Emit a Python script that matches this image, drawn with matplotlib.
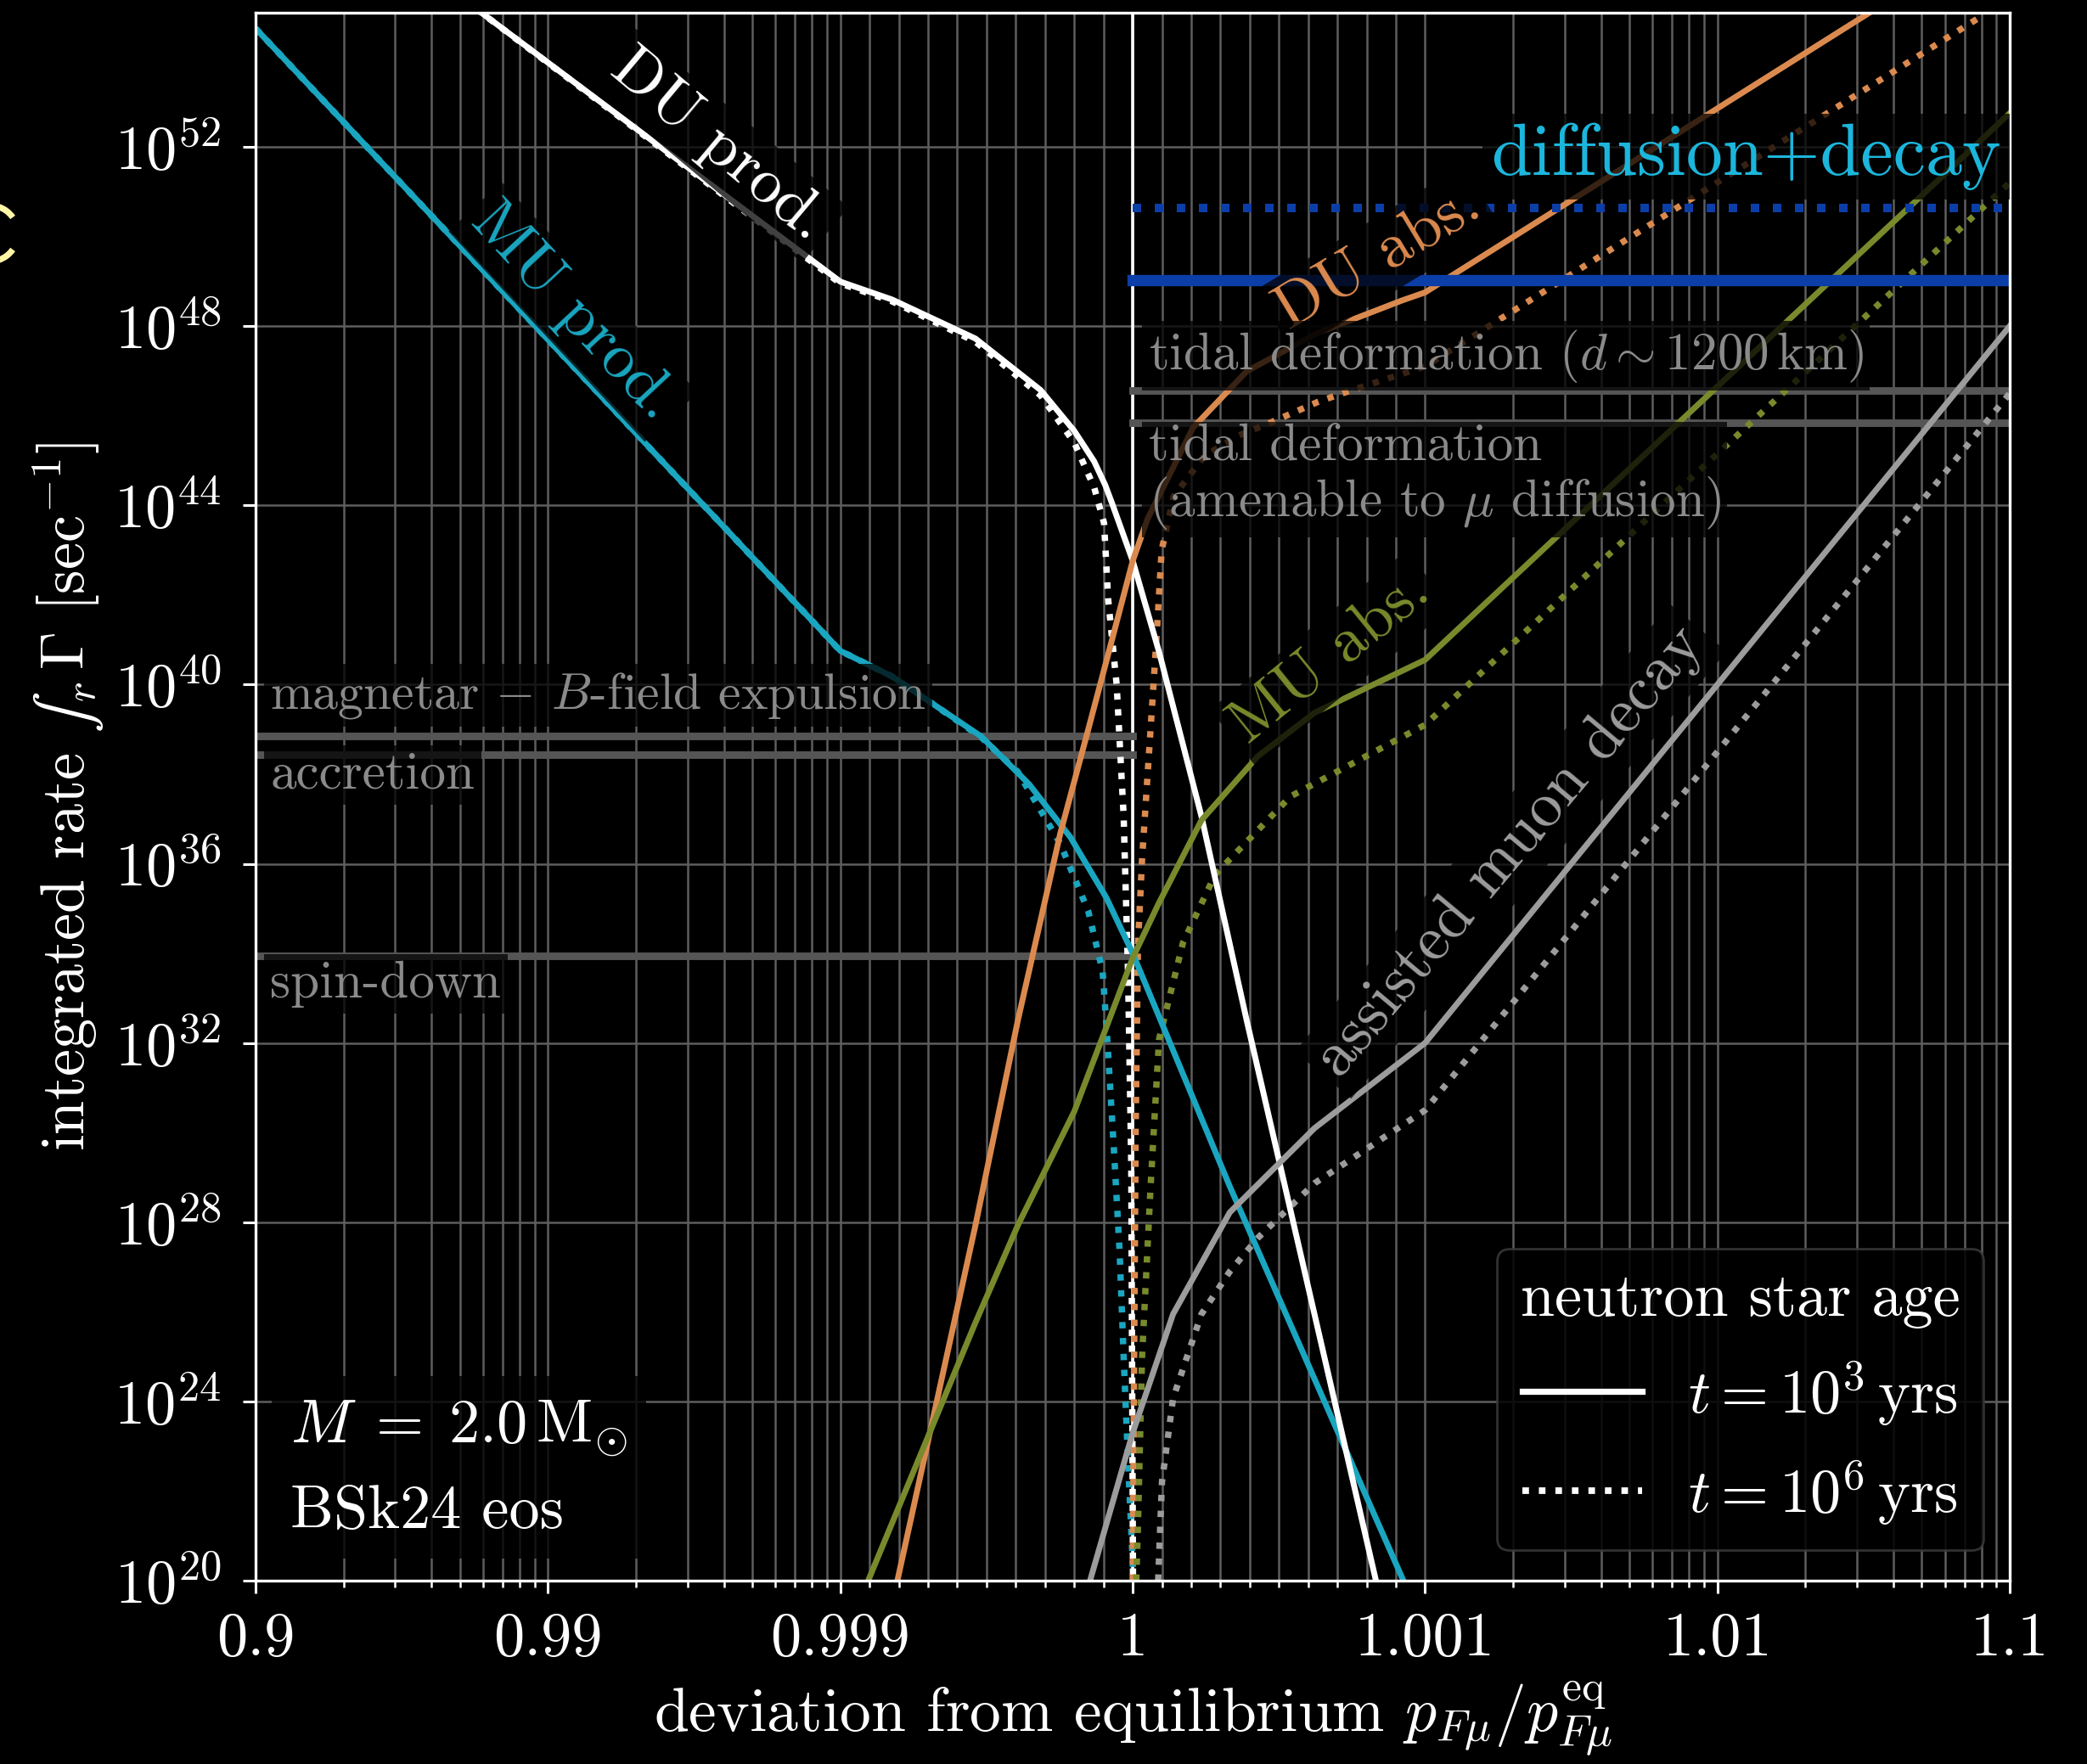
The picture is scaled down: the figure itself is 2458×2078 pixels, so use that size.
import numpy as np
import matplotlib
matplotlib.use("Agg")
import matplotlib.pyplot as plt
from matplotlib.lines import Line2D
from matplotlib.patches import Arc
from matplotlib.transforms import IdentityTransform
from matplotlib.ticker import FixedLocator, NullFormatter, NullLocator

plt.rcParams['font.family'] = ['cmr10']
plt.rcParams['mathtext.fontset'] = 'cm'
plt.rcParams['axes.formatter.use_mathtext'] = True
plt.rcParams['axes.unicode_minus'] = False

# ---------------- data (x = p_Fmu / p_Fmu^eq, values = log10 of rate [1/s]) -------------
mu_prod_x_t3 = [0.9, 0.999, 0.999177, 0.9993, 0.999482, 0.999645, 0.999787, 0.99991, 1.0,
                1.000332, 1.000622, 1.000926]
mu_prod_t3 = [54.64, 40.75, 40.18, 39.64, 38.84, 37.78, 36.59, 35.24, 34.0, 28.8, 24.5, 20.0]
mu_prod_x_t6 = [0.9, 0.999, 0.999177, 0.9993, 0.999482, 0.999607, 0.999752, 0.999848, 0.999897,
                0.99991, 0.999935, 0.999955, 0.999969, 0.999984, 1.000003]
mu_prod_t6 = [54.64, 40.75, 40.18, 39.64, 38.82, 38.05, 36.45, 34.94, 33.6, 32.4, 29.7, 27.37,
              25.0, 22.65, 20.0]

du_prod_x_t3 = [0.98, 0.999, 0.999177, 0.999462, 0.999685, 0.9998, 0.999868, 0.999906, 0.999929,
                1.0, 1.00009, 1.000235, 1.00039, 1.000832]
du_prod_t3 = [55.35, 48.99, 48.59, 47.72, 46.57, 45.66, 44.98, 44.45, 44.05, 42.76, 40.73, 37.06,
              32.5, 20.0]
du_prod_x_t6 = [0.98, 0.999, 0.999177, 0.999462, 0.999685, 0.9998, 0.999868, 0.999902, 0.999916,
                0.999945, 0.999969, 0.999984, 0.999995, 1.000001]
du_prod_t6 = [55.35, 48.95, 48.55, 47.65, 46.45, 45.4, 44.4, 43.6, 41.9, 40.0, 37.06, 33.56,
              29.3, 20.0]

du_abs_x_t3 = [0.999195, 0.999462, 0.999607, 0.999752, 0.999848, 0.999926, 1.0, 1.000051,
               1.000206, 1.00039, 1.000631, 1.000921, 1.001, 1.0398]
du_abs_t3 = [20.0, 27.93, 32.5, 36.67, 39.0, 40.92, 42.76, 43.7, 45.73, 46.99, 47.84, 48.57,
             48.75, 55.32]
du_abs_x_t6 = [1.0, 1.00001, 1.000018, 1.000032, 1.000051, 1.00008, 1.000099, 1.00014,
               1.000245, 1.00036, 1.000477, 1.000631, 1.000718, 1.001, 1.0794]
du_abs_t6 = [20.0, 30.0, 34.2, 36.1, 38.0, 40.9, 43.0, 44.2, 45.1, 45.55, 45.86, 46.3, 46.5,
             47.1, 54.9]

mu_abs_x_t3 = [0.999095, 0.999462, 0.999607, 0.9998, 1.0, 1.00009, 1.000235, 1.000428, 1.000622,
               1.001, 1.1]
mu_abs_t3 = [20.0, 25.76, 27.93, 30.47, 33.9, 35.13, 36.97, 38.4, 39.37, 40.55, 52.75]
mu_abs_x_t6 = [1.000012, 1.000018, 1.000032, 1.000061, 1.00009, 1.000172, 1.000282, 1.000539,
               1.001, 1.1]
mu_abs_t6 = [20.0, 21.24, 25.0, 28.78, 32.08, 34.24, 35.76, 37.5, 39.1, 51.2]

decay_x_t3 = [0.999854, 1.0, 1.000138, 1.000332, 1.000622, 1.001, 1.1]
decay_t3 = [20.0, 23.3, 25.95, 28.22, 30.1, 32.0, 48.0]
decay_x_t6 = [1.000087, 1.0001, 1.000138, 1.000235, 1.000332, 1.000428, 1.000622, 1.001, 1.1]
decay_t6 = [20.0, 22.2, 24.07, 25.95, 26.9, 27.65, 28.87, 30.5, 46.5]

# constant rate levels (log10)
diffusion_t3 = 49.02
diffusion_t6 = 50.64
tidal_levels = [46.57, 45.85]
magnetar_level = 38.85
accretion_level = 38.43
spindown_level = 33.95

x_major = [0.9, 0.99, 0.999, 1.0, 1.001, 1.01, 1.1]
x_major_labels = ["0.9", "0.99", "0.999", "1", "1.001", "1.01", "1.1"]
y_exponents = [20, 24, 28, 32, 36, 40, 44, 48, 52]

# ---------------- colours ----------------
C_MU_PROD = '#1aa6c0'
C_DU_PROD = 'white'
C_DU_ABS = '#db8a4f'
C_MU_ABS = '#788a2c'
C_DECAY = '#9c9c9c'
C_DIFF = '#0c3ea8'
C_DIFF_TXT = '#1cb6dc'
C_CONS = '#555555'
C_CONS_TXT = '#8a8a8a'
C_GRID = '#5e5e5e'


def fwd(x):
    x = np.asarray(x, dtype=float)
    d = x - 1.0
    a = np.abs(d)
    with np.errstate(divide='ignore', invalid='ignore'):
        lg = np.sign(d) * (np.log10(np.maximum(a, 1e-300)) + 4.0)
    return np.where(a <= 1e-3, d / 1e-3, lg)


def inv(u):
    u = np.asarray(u, dtype=float)
    a = np.abs(u)
    with np.errstate(over='ignore', invalid='ignore'):
        lg = 1.0 + np.sign(u) * 10.0 ** (np.minimum(a, 300) - 4.0)
    return np.where(a <= 1.0, 1.0 + u * 1e-3, lg)


fig = plt.figure(figsize=(12.29, 10.39), dpi=200, facecolor='black')
ax = fig.add_axes([0.1225, 0.1039, 0.8405, 0.8891])
ax.set_facecolor('black')
ax.set_xscale('function', functions=(fwd, inv))
ax.set_yscale('log')
ax.set_xlim(0.9, 1.1)
ax.set_ylim(1e20, 1e55)

# ticks
minor = []
for k in range(2, 10):
    minor += [1 - 0.1 / k, 1 - 0.01 / k, 1 + 0.001 * k, 1 + 0.01 * k]
for k in range(1, 10):
    minor += [1 - 0.0001 * k, 1 + 0.0001 * k]
ax.xaxis.set_major_locator(FixedLocator(x_major))
ax.set_xticklabels(x_major_labels)
ax.xaxis.set_minor_locator(FixedLocator(sorted(minor)))
ax.xaxis.set_minor_formatter(NullFormatter())
ax.set_yticks([10.0 ** e for e in y_exponents])
ax.set_yticklabels([r"$10^{%d}$" % e for e in y_exponents])
ax.yaxis.set_minor_locator(NullLocator())

ax.tick_params(axis='both', which='major', colors='white', labelcolor='white', labelsize=26,
               direction='out', length=5.5, width=1.1)
ax.tick_params(axis='x', which='major', pad=8)
ax.tick_params(axis='y', which='major', pad=9)
ax.tick_params(axis='x', which='minor', colors='white', direction='out', length=3, width=0.9)
for s in ax.spines.values():
    s.set_color('white')
    s.set_linewidth(1.2)

ax.grid(True, which='both', axis='x', color=C_GRID, lw=0.9, zorder=0)
ax.grid(True, which='major', axis='y', color=C_GRID, lw=0.9, zorder=0)
ax.set_axisbelow(True)

# constraint lines
ax.axvline(1.0, color='white', lw=1.3, zorder=1.5)
for lev in tidal_levels:
    ax.plot([1.0, 1.1], [10 ** lev] * 2, color=C_CONS, lw=3.2, zorder=1.6)
for lev in [magnetar_level, accretion_level, spindown_level]:
    ax.plot([0.9, 1.0], [10 ** lev] * 2, color=C_CONS, lw=3.2, zorder=1.6)
ax.plot([1.0, 1.1], [10 ** diffusion_t3] * 2, color=C_DIFF, lw=4.8, zorder=2.5)
ax.plot([1.0, 1.1], [10 ** diffusion_t6] * 2, color=C_DIFF, lw=3.6, ls=(0, (1, 1.6)),
        zorder=2.5)

LW = 2.5
DOT = (0, (1, 1.5))
curves = [
    (mu_prod_x_t3, mu_prod_t3, mu_prod_x_t6, mu_prod_t6, C_MU_PROD),
    (du_prod_x_t3, du_prod_t3, du_prod_x_t6, du_prod_t6, C_DU_PROD),
    (du_abs_x_t3, du_abs_t3, du_abs_x_t6, du_abs_t6, C_DU_ABS),
    (mu_abs_x_t3, mu_abs_t3, mu_abs_x_t6, mu_abs_t6, C_MU_ABS),
    (decay_x_t3, decay_t3, decay_x_t6, decay_t6, C_DECAY),
]
for x3, l3, x6, l6, c in curves:
    ax.plot(x6, 10.0 ** np.array(l6), color=c, lw=2.7, ls=DOT, zorder=2)
    ax.plot(x3, 10.0 ** np.array(l3), color=c, lw=LW, zorder=2.2)

# text labels
bb = dict(boxstyle='square,pad=0.12', facecolor='black', edgecolor='none', alpha=0.75)
T = ax.transAxes
ax.text(0.264, 0.915, "DU prod.", color='white', fontsize=27, rotation=-40, ha='center',
        va='center', transform=T, bbox=bb, zorder=4)
ax.text(0.181, 0.809, "MU prod.", color=C_MU_PROD, fontsize=27, rotation=-47, ha='center',
        va='center', transform=T, bbox=bb, zorder=4)
ax.text(0.640, 0.843, "DU abs.", color=C_DU_ABS, fontsize=27, rotation=31, ha='center',
        va='center', transform=T, bbox=bb, zorder=4)
ax.text(0.613, 0.588, "MU abs.", color=C_MU_ABS, fontsize=27, rotation=39, ha='center',
        va='center', transform=T, bbox=bb, zorder=4)
ax.text(0.7155, 0.465, "assisted muon decay", color=C_DECAY, fontsize=27, rotation=50,
        ha='center', va='center', transform=T, bbox=bb, zorder=4)
ax.text(0.995, 0.908, "diffusion+decay", color=C_DIFF_TXT, fontsize=31, ha='right',
        va='center', transform=T, bbox=bb, zorder=4)
ax.text(0.509, 0.781, r"tidal deformation $(d\sim1200\,\mathrm{km})$", color=C_CONS_TXT,
        fontsize=22, ha='left', va='center', transform=T, bbox=bb, zorder=4)
ax.text(0.509, 0.7037, "tidal deformation\n" + r"(amenable to $\mu$ diffusion)",
        color=C_CONS_TXT, fontsize=22, ha='left', va='center', linespacing=1.1, transform=T,
        bbox=bb, zorder=4)
ax.text(0.0084, 0.5645, r"magnetar $-$ $B$-field expulsion", color=C_CONS_TXT, fontsize=21.5,
        ha='left', va='center', transform=T, bbox=bb, zorder=4)
ax.text(0.0084, 0.5136, "accretion", color=C_CONS_TXT, fontsize=22, ha='left', va='center',
        transform=T, bbox=bb, zorder=4)
ax.text(0.0084, 0.3803, "spin-down", color=C_CONS_TXT, fontsize=22, ha='left', va='center',
        transform=T, bbox=bb, zorder=4)
ax.text(0.0197, 0.071, r"$M\;=\;2.0\,\mathrm{M}_{\odot}$" + "\nBSk24 eos", color='white',
        fontsize=26, ha='left', va='center', linespacing=1.62, transform=T,
        bbox=dict(boxstyle='square,pad=0.3', facecolor='black', edgecolor='none', alpha=0.8),
        zorder=4)

handles = [Line2D([], [], color='white', lw=2.6),
           Line2D([], [], color='white', lw=2.8, ls=DOT)]
leg = ax.legend(handles, [r"$t = 10^3\,\mathrm{yrs}$", r"$t = 10^6\,\mathrm{yrs}$"],
                title="neutron star age", loc='lower right', bbox_to_anchor=(0.985, 0.0195),
                borderaxespad=0, fontsize=26, title_fontsize=26, frameon=True,
                facecolor='black', edgecolor='#3a3a3a', framealpha=0.85, labelcolor='white',
                handlelength=1.95, handletextpad=0.75, labelspacing=0.5, borderpad=0.38)
leg.get_title().set_color('white')
leg.set_zorder(5)

ax.set_xlabel(r"deviation from equilibrium $p_{F\mu}/p_{F\mu}^{\mathrm{eq}}$", color='white',
              fontsize=26.5)
ax.xaxis.set_label_coords(0.5, -0.063)

ylab_text = "integrated rate $\u222b_r\\,\\Gamma$ [sec$^{-1}$]"
ylab = ax.set_ylabel(ylab_text, color='white', fontsize=26)
try:
    fig.canvas.draw()
except Exception:
    ylab.set_text(r"integrated rate $\int_r\,\Gamma$ [sec$^{-1}$]")
    ylab.set_math_fontfamily('stix')
ax.yaxis.set_label_coords(-0.085, 0.5)

# fragment of a yellow mark at the left edge of the slide
arc = Arc((-12, 2078 - 275), 66, 66, theta1=35, theta2=325, color='#fff7a6', lw=2.6,
          transform=IdentityTransform(), clip_on=False)
fig.add_artist(arc)

fig.savefig("out.png", dpi=200, facecolor='black')
